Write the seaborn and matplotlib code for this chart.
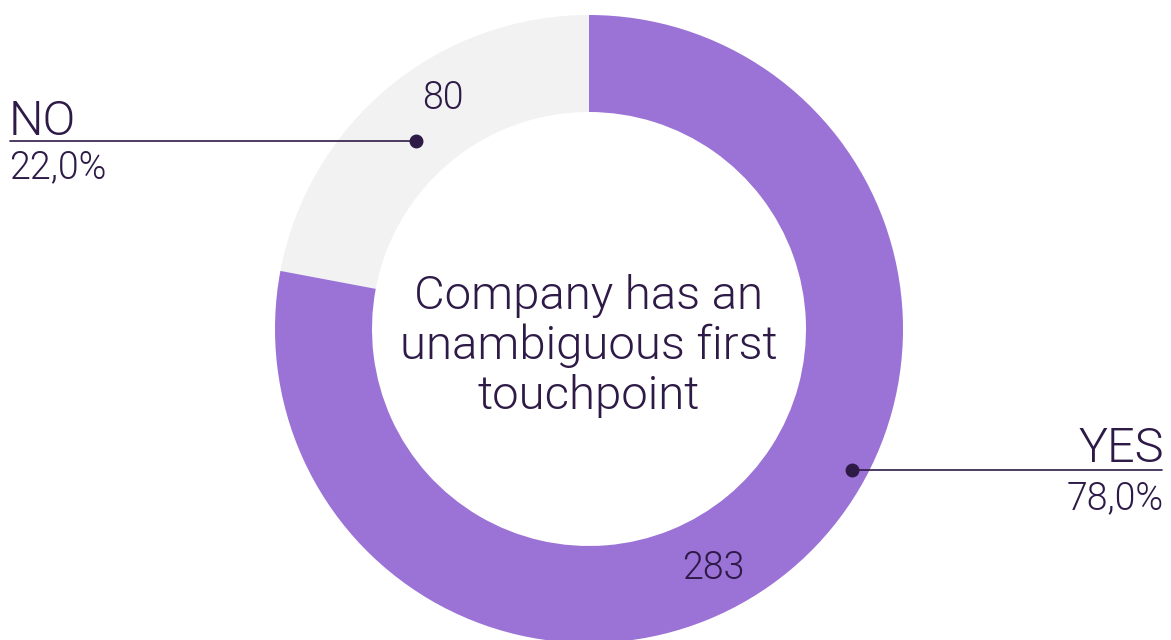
import matplotlib
matplotlib.use("Agg")
import matplotlib.pyplot as plt
import seaborn as sns

sns.set_theme(style="white")
plt.rcParams["font.family"] = ["Roboto", "DejaVu Sans"]
plt.rcParams["font.weight"] = 300

labels = ["NO", "YES"]
counts = [80, 283]
shares = ["22,0%", "78,0%"]
colors = ["#f2f2f2", "#9b72d6"]
title = "Company has an\nunambiguous first\ntouchpoint"

txt = "#2e1a47"
W, H = 1171, 640

fig = plt.figure(figsize=(W / 100, H / 100), dpi=100)
ax = fig.add_axes([0, 0, 1, 1])

cx, cy, r = 589, H - 329, 314
ax.pie(counts, colors=colors, startangle=90, counterclock=True,
       center=(cx, cy), radius=r, frame=True,
       wedgeprops=dict(width=97, linewidth=0))
ax.set_xlim(0, W)
ax.set_ylim(0, H)
ax.set_aspect("equal")
ax.axis("off")

# center text
ax.text(cx, H - 346, title, ha="center", va="center", fontsize=34,
        color=txt, linespacing=1.17, fontweight=300)

# NO callout
ax.plot([10, 416], [H - 141, H - 141], color=txt, lw=1.2)
ax.plot(416, H - 141, "o", color=txt, ms=9)
ax.text(9, H - 135, labels[0], ha="left", va="baseline", fontsize=35, color=txt, fontweight=300)
ax.text(9, H - 149, shares[0], ha="left", va="top", fontsize=27, color=txt, fontweight=300)
ax.text(443, H - 98, str(counts[0]), ha="center", va="center", fontsize=27, color=txt, fontweight=300)

# YES callout
ax.plot([852, 1162], [H - 470, H - 470], color=txt, lw=1.2)
ax.plot(852, H - 470, "o", color=txt, ms=9)
ax.text(1164, H - 462, labels[1], ha="right", va="baseline", fontsize=35, color=txt, fontweight=300)
ax.text(1164, H - 480, shares[1], ha="right", va="top", fontsize=27, color=txt, fontweight=300)
ax.text(713, H - 568, str(counts[1]), ha="center", va="center", fontsize=27, color=txt, fontweight=300)

fig.savefig("out.png", dpi=100, facecolor="white")
